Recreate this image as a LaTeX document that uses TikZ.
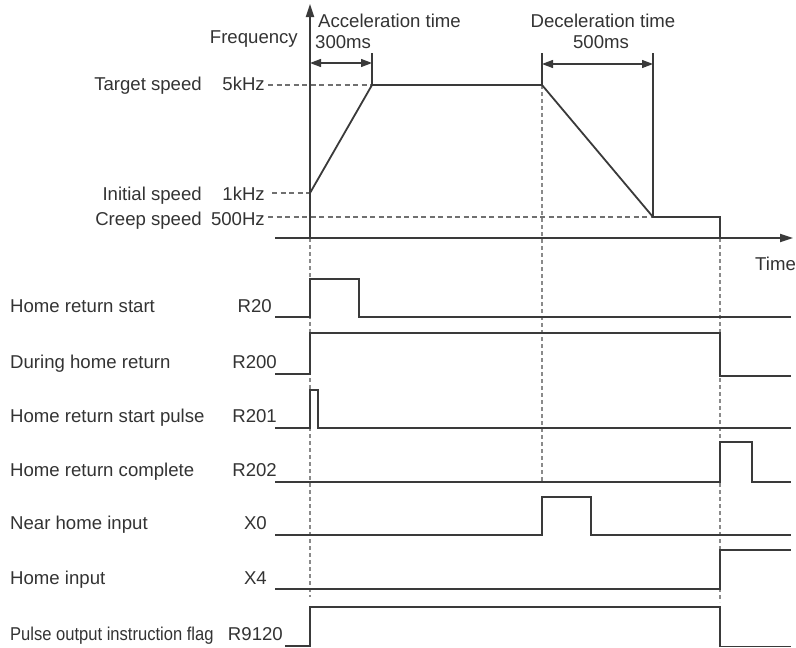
\documentclass[tikz,border=0pt]{standalone}
\usepackage{fontspec}
\setmainfont{Liberation Sans}
\usetikzlibrary{arrows.meta}
\definecolor{ink}{HTML}{3A3A3A}
\definecolor{txt}{HTML}{333333}
\definecolor{dashc}{HTML}{707070}
\definecolor{vdash}{HTML}{8A8A8A}
\begin{document}
\begin{tikzpicture}[x=1pt,y=-1pt,
  every node/.style={font=\fontsize{18.6}{20}\selectfont, text=txt, inner sep=0pt},
  lbl/.style={anchor=base west},
  rlbl/.style={anchor=base east},
  sig/.style={draw=ink, line width=1.8pt, line join=miter},
  axis/.style={draw=ink, line width=1.8pt, -{Triangle[length=13pt,width=8pt]}},
  dimline/.style={draw=ink, line width=1.3pt},
  dimarrow/.style={draw=ink, line width=1.3pt, {Triangle[length=11pt,width=8pt]}-{Triangle[length=11pt,width=8pt]}},
  hguide/.style={draw=dashc, line width=1.2pt, dash pattern=on 5pt off 3.5pt},
  vguide/.style={draw=vdash, line width=1.3pt, dash pattern=on 4pt off 3pt}]
\useasboundingbox (0,0) rectangle (796,648);

% ---- texts of the speed chart
\node[rlbl] (freq) at (298,43) {Frequency};
\node[lbl] (acc) at (318,27) {Acceleration time};
\node[lbl] (acct) at (315,48) {300ms};
\node[anchor=base] (dec) at (603,27) {Deceleration time};
\node[anchor=base] (dect) at (601,48) {500ms};
\node[rlbl] (tgt) at (202,90) {Target speed};
\node[rlbl] (tgtv) at (265,90) {5kHz};
\node[rlbl] (ini) at (202,200) {Initial speed};
\node[rlbl] (iniv) at (265,200) {1kHz};
\node[rlbl] (crp) at (202,225) {Creep speed};
\node[rlbl] (crpv) at (265,225) {500Hz};
\node[lbl] (time) at (755,270) {Time};

% ---- key points
\coordinate (o) at (310,238);
\coordinate (ftop) at (310,4);
\coordinate (tl) at (275,238);
\coordinate (tr) at (793,238);
\coordinate (p0) at (310,193);
\coordinate (p1) at (372,85);
\coordinate (p2) at (542,85);
\coordinate (p3) at (653,217);
\coordinate (p4) at (720,217);
\coordinate (p5) at (720,238);

% ---- guides
\draw[hguide] (268,85) -- (p1);
\draw[hguide] (272,193) -- (p0);
\draw[hguide] (268,217) -- (p3);
\draw[vguide] (o) -- (310,597);
\draw[vguide] (p2) -- (542,483);
\draw[vguide] (p5) -- (720,602);

% ---- dimension marks
\draw[dimline] (372,53) -- (p1);
\draw[dimarrow] (310,63) -- (372,63);
\draw[dimline] (542,53) -- (p2);
\draw[dimline] (653,53) -- (p3);
\draw[dimarrow] (542,64) -- (653,64);

% ---- axes and profile
\draw[axis] (o) -- (ftop);
\draw[axis] (tl) -- (tr);
\draw[sig] (p0) -- (p1) -- (p2) -- (p3) -- (p4) -- (p5);

% ---- signal names
\node[lbl] (n1) at (10,312) {Home return start};
\node[rlbl] (s1) at (272,312) {R20};
\node[lbl] (n2) at (10,368) {During home return};
\node[rlbl] (s2) at (277,368) {R200};
\node[lbl] (n3) at (10,422) {Home return start pulse};
\node[rlbl] (s3) at (277,422) {R201};
\node[lbl] (n4) at (10,476) {Home return complete};
\node[rlbl] (s4) at (277,476) {R202};
\node[lbl] (n5) at (10,529) {Near home input};
\node[rlbl] (s5) at (267,529) {X0};
\node[lbl] (n6) at (10,584) {Home input};
\node[rlbl] (s6) at (267,584) {X4};
\node[lbl] (n7) at (10,640) {\scalebox{0.89}[1]{Pulse output instruction flag}};
\node[rlbl] (s7) at (283,640) {R9120};

% ---- signal waveforms
\draw[sig] (275,317) -- (310,317) -- (310,279) -- (359,279) -- (359,317) -- (791,317);
\draw[sig] (275,374) -- (310,374) -- (310,333) -- (720,333) -- (720,376) -- (791,376);
\draw[sig] (275,428) -- (310,428) -- (310,390) -- (318,390) -- (318,428) -- (791,428);
\draw[sig] (275,482) -- (720,482) -- (720,442) -- (752,442) -- (752,482) -- (791,482);
\draw[sig] (275,535) -- (542,535) -- (542,497) -- (591,497) -- (591,535) -- (791,535);
\draw[sig] (275,589) -- (720,589) -- (720,550) -- (791,550);
\draw[sig] (285,646) -- (310,646) -- (310,607) -- (720,607) -- (720,646.5) -- (791,646.5);
\end{tikzpicture}
\end{document}
